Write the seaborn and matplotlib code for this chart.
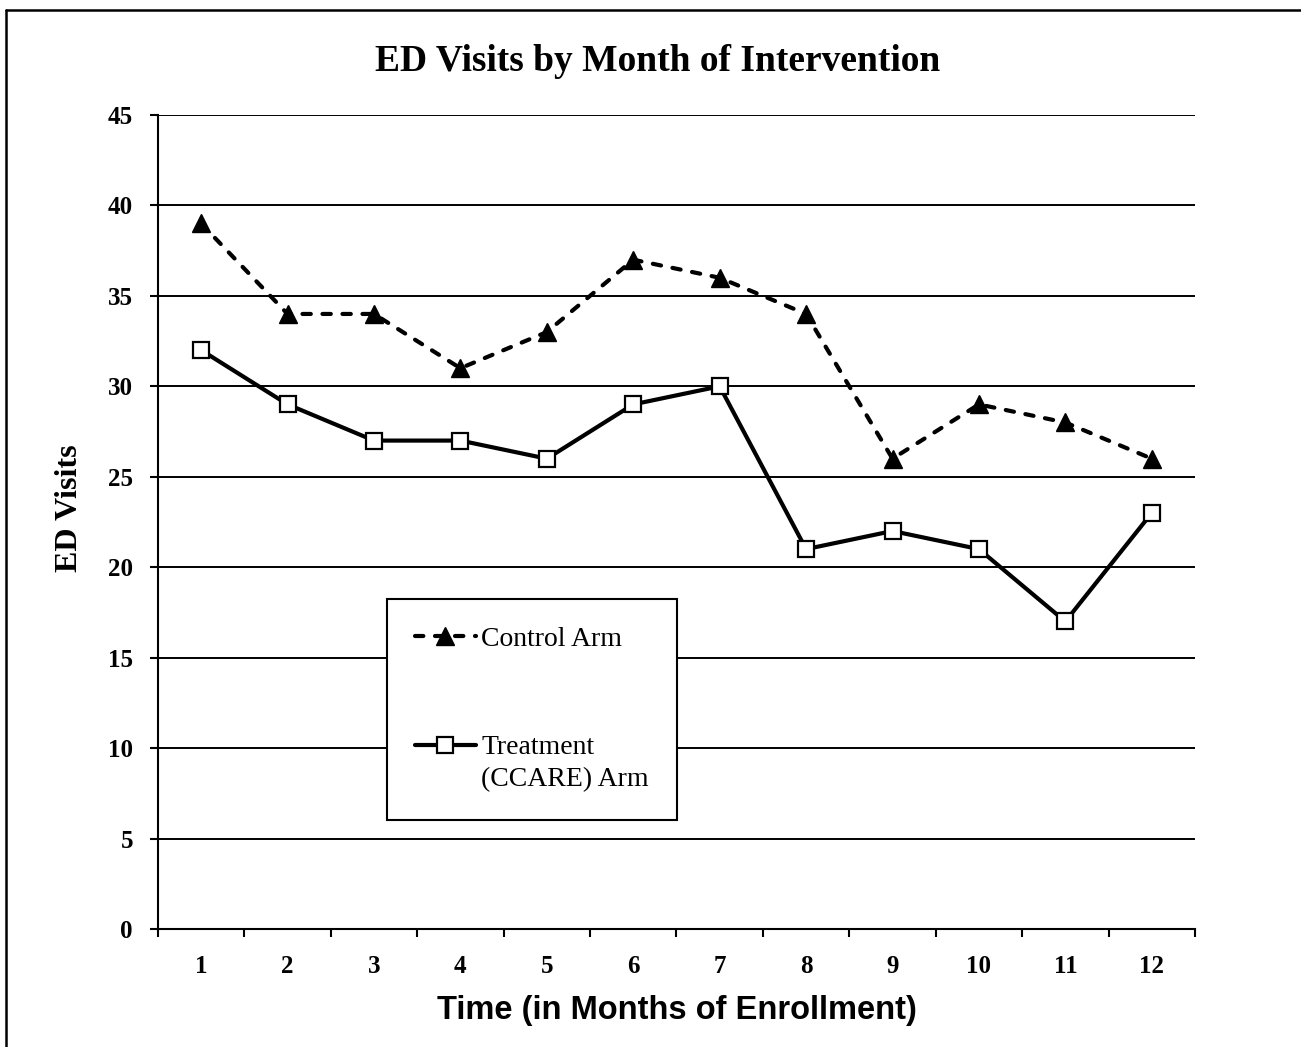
"""ED visits by month of intervention - control vs treatment arm line chart."""

import matplotlib

matplotlib.use("Agg")
import matplotlib.pyplot as plt
import seaborn as sns
from matplotlib.lines import Line2D

# --- data ---
MONTHS = [1, 2, 3, 4, 5, 6, 7, 8, 9, 10, 11, 12]
CONTROL_VISITS = [39, 34, 34, 31, 33, 37, 36, 34, 26, 29, 28, 26]
TREATMENT_VISITS = [32, 29, 27, 27, 26, 29, 30, 21, 22, 21, 17, 23]
Y_TICKS = [0, 5, 10, 15, 20, 25, 30, 35, 40, 45]

TITLE = "ED Visits by Month of Intervention"
X_LABEL = "Time (in Months of Enrollment)"
Y_LABEL = "ED Visits"
LEGEND_LABELS = ["Control Arm", "Treatment\n(CCARE) Arm"]

SERIF = ["Liberation Serif", "DejaVu Serif"]
SANS = ["Liberation Sans", "DejaVu Sans"]

sns.set_style("ticks")
plt.rcParams["font.family"] = SERIF
for key in ["text.color", "axes.labelcolor", "xtick.color", "ytick.color"]:
    plt.rcParams[key] = "black"

fig = plt.figure(figsize=(13.01, 10.47), dpi=100)
ax = fig.add_axes([0.1214, 0.1127, 0.7971, 0.7775])

# control arm: dashed line, filled triangles
sns.lineplot(
    x=MONTHS, y=CONTROL_VISITS, ax=ax, color="black", linewidth=3,
    linestyle=(0, (2.0, 2.8)), dash_capstyle="round",
    marker="^", markersize=13, markerfacecolor="black",
    markeredgecolor="black", markeredgewidth=1, zorder=3,
)
# treatment arm: solid line, open squares
sns.lineplot(
    x=MONTHS, y=TREATMENT_VISITS, ax=ax, color="black", linewidth=3,
    marker="s", markersize=12, markerfacecolor="white",
    markeredgecolor="black", markeredgewidth=1.6, zorder=3,
)

ax.set_xlim(0.5, 12.5)
ax.set_ylim(0, 45)

# tick marks sit between the months, labels sit on them
ax.set_xticks([m - 0.5 for m in MONTHS] + [MONTHS[-1] + 0.5])
ax.set_xticklabels([])
ax.set_xticks(MONTHS, minor=True)
ax.set_xticklabels([str(m) for m in MONTHS], minor=True)
ax.tick_params(axis="x", which="major", length=6, width=1.5, direction="out")
ax.tick_params(axis="x", which="minor", length=0, pad=19, labelsize=18)

ax.set_yticks(Y_TICKS)
ax.tick_params(axis="y", length=6, width=1.5, direction="out", pad=12, labelsize=18)

for lbl in ax.get_xticklabels(minor=True) + ax.get_yticklabels():
    lbl.set_fontweight("bold")

ax.yaxis.grid(True, color="black", linewidth=1.4)
ax.xaxis.grid(False)
ax.set_axisbelow(True)

sns.despine(ax=ax)
for side in ["left", "bottom"]:
    ax.spines[side].set_color("black")
    ax.spines[side].set_linewidth(1.5)

ax.set_xlabel(X_LABEL, fontsize=23.5, fontweight="bold", family=SANS)
ax.xaxis.set_label_coords(0.5, -0.0995)
ax.xaxis.label.set_verticalalignment("center")

ax.set_ylabel(Y_LABEL, fontsize=23, fontweight="bold")
ax.yaxis.set_label_coords(-0.085, 0.517)
ax.yaxis.label.set_verticalalignment("center")

fig.text(0.5058, 0.941, TITLE, ha="center", va="center",
         fontsize=27, fontweight="bold")

leg = ax.legend(
    handles=ax.lines[:2], labels=LEGEND_LABELS,
    loc="upper left", bbox_to_anchor=(0.2208, 0.4054), borderaxespad=0,
    fontsize=20, frameon=True, fancybox=False, shadow=False,
    edgecolor="black", framealpha=1, handlelength=2.2, handletextpad=0.2,
    labelspacing=3.0, borderpad=1.0,
)
leg.get_frame().set_linewidth(1.5)
leg.get_texts()[1].set_linespacing(1.36)

# line the handles up with the first line of each label
for row in leg._legend_handle_box.get_children()[0].get_children():
    row.align = "top"

# page frame (left and top edges only, as in the source image)
fig.add_artist(Line2D([0.0046, 0.0046], [0, 0.9909], color="black",
                      linewidth=1.8, transform=fig.transFigure))
fig.add_artist(Line2D([0.0046, 1], [0.9909, 0.9909], color="black",
                      linewidth=1.8, transform=fig.transFigure))

fig.savefig("out.png", dpi=100)
